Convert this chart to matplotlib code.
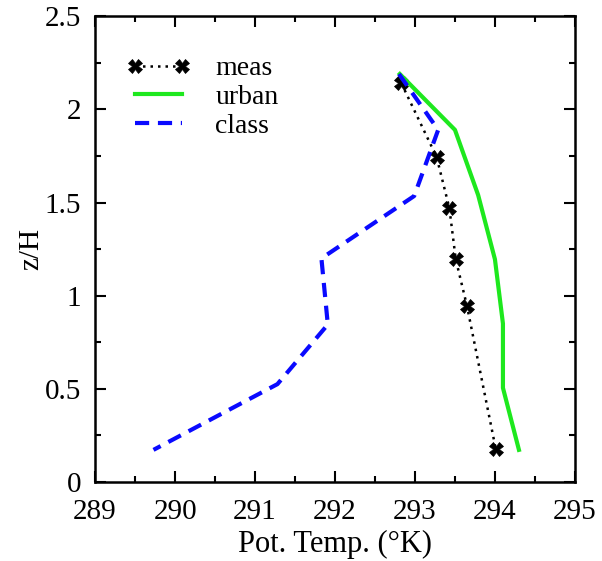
import matplotlib
matplotlib.use('Agg')
import matplotlib.pyplot as plt
from matplotlib.ticker import MultipleLocator

# measured profile
meas_T = [292.83, 293.27, 293.43, 293.51, 293.65, 294.01]
meas_z = [2.14, 1.745, 1.47, 1.195, 0.945, 0.177]

# urban model
urban_T = [292.81, 293.50, 293.79, 294.00, 294.10, 294.10, 294.30]
urban_z = [2.19, 1.89, 1.54, 1.195, 0.85, 0.505, 0.172]

# classic model
class_T = [292.80, 293.29, 292.99, 291.83, 291.91, 291.28, 289.73]
class_z = [2.19, 1.89, 1.535, 1.20, 0.845, 0.525, 0.172]

plt.rcParams['font.family'] = ['Liberation Serif', 'DejaVu Serif']
plt.rcParams['font.size'] = 20

fig = plt.figure(figsize=(6.02, 5.61), dpi=100)
ax = fig.add_axes([0.158, 0.141, 0.797, 0.830])

ax.plot(meas_T, meas_z, color='black', linestyle=(0, (1, 2.0)), linewidth=1.8,
        marker='X', markersize=10, markeredgewidth=0.5, label='meas')
ax.plot(urban_T, urban_z, color='#1ee81e', linewidth=3, label='urban')
ax.plot(class_T, class_z, color='#0a0aff', linewidth=3, linestyle=(0, (3.4, 2.1)),
        label='class')

ax.set_xlim(289, 295)
ax.set_ylim(0, 2.5)
ax.xaxis.set_major_locator(MultipleLocator(1))
ax.xaxis.set_minor_locator(MultipleLocator(0.5))
ax.yaxis.set_minor_locator(MultipleLocator(0.25))
ax.set_yticks([0, 0.5, 1, 1.5, 2, 2.5])
ax.set_yticklabels(['0', '0.5', '1', '1.5', '2', '2.5'])
ax.tick_params(which='both', direction='in', top=True, right=True, width=1.5,
               labelsize=21)
ax.tick_params(which='major', length=8)
ax.tick_params(which='minor', length=4)
ax.tick_params(axis='x', which='major', pad=12)
ax.tick_params(axis='y', which='major', pad=10)
for s in ax.spines.values():
    s.set_linewidth(1.8)

ax.set_xlabel('Pot. Temp. (°K)', fontsize=22, labelpad=4)
ax.set_ylabel('z/H', fontsize=21, labelpad=0)

ax.legend(loc='upper left', frameon=False, numpoints=2, handlelength=2.3,
          handletextpad=0.9, labelspacing=0.12, borderpad=0, borderaxespad=0,
          bbox_to_anchor=(0.065, 0.915))

fig.savefig('out.png', dpi=100)
